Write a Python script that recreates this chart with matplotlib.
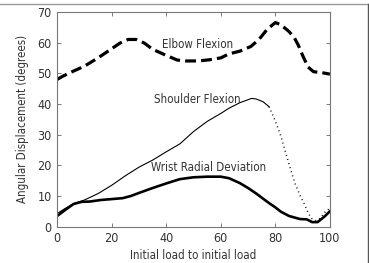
import matplotlib
matplotlib.use('Agg')
import matplotlib.pyplot as plt
from matplotlib.lines import Line2D
import numpy as np

plt.rcParams['font.family'] = ['DejaVu Sans']
plt.rcParams['font.stretch'] = 'condensed'

# elbow flexion (dashed)
elbow_x = [0, 2, 5, 10, 15, 20, 23, 26, 29, 32, 35, 40, 44, 47, 52, 56, 60, 63, 67, 71, 74, 77, 80, 82, 85, 87, 88.5, 90, 92, 94, 97, 100]
elbow_y = [48, 49, 50.3, 52.3, 55, 58, 59.8, 61, 61, 59.8, 57.8, 55.8, 54.3, 54, 54, 54.4, 55, 56.3, 57.2, 58.7, 61, 64.3, 66.5, 65.8, 63.6, 61.5, 59, 55.8, 52, 50.5, 50.2, 49.7]

# shoulder flexion, solid part then dotted part
shoulder_x = [0, 3, 6, 10, 15, 20, 25, 30, 35, 40, 45, 50, 55, 60, 63, 67, 71.3, 73, 75.5, 77.7]
shoulder_y = [4.3, 6, 7.5, 8.7, 10.8, 13.5, 16.6, 19.4, 21.7, 24.4, 27, 31, 34.3, 36.9, 38.6, 40.4, 41.8, 41.6, 40.7, 39.1]
shoulder_dot_x = [77.7, 79.8, 81.7, 83.5, 85.3, 87.2, 89, 90.8, 92.1, 93.3, 94.9, 96.4, 98.3, 100]
shoulder_dot_y = [39.1, 34.8, 30.4, 25, 19.5, 14.1, 10.3, 7.1, 4.4, 2.7, 2, 2.7, 4.9, 6]

# wrist radial deviation
wrist_x = [0, 3, 6, 9, 12, 16, 20, 24, 27, 30, 35, 40, 45, 50, 55, 60, 63, 67, 70, 73, 76, 78, 80, 82, 85, 89, 91.5, 93.5, 95.5, 98, 100]
wrist_y = [3.5, 5.5, 7.4, 8.1, 8.2, 8.7, 9, 9.3, 10, 11, 12.6, 14.1, 15.5, 16.1, 16.3, 16.3, 15.8, 14.2, 12.6, 10.8, 8.8, 7.5, 6.3, 4.9, 3.5, 2.5, 2.4, 1.5, 1.5, 3.3, 5]

fig = plt.figure(figsize=(3.69, 2.63), dpi=100)
ax = fig.add_axes([0.155, 0.138, 0.739, 0.817])

ax.plot(elbow_x, elbow_y, color='black', lw=2.3, dashes=(3.4, 1.6))
ax.plot(shoulder_x, shoulder_y, color='black', lw=0.8)
ax.plot(shoulder_dot_x, shoulder_dot_y, color='black', lw=1.1, ls=(0, (0.6, 2.2)))
ax.plot(wrist_x, wrist_y, color='black', lw=1.9)

ax.text(51.6, 59.2, 'Elbow Flexion', ha='center', va='center', fontsize=8.3, color='#333333')
ax.text(51.5, 41.5, 'Shoulder Flexion', ha='center', va='center', fontsize=8.3, color='#333333')
ax.text(55.6, 19.2, 'Wrist Radial Deviation', ha='center', va='center', fontsize=8.3, color='#333333')

ax.set_xlim(0, 100)
ax.set_ylim(0, 70)
ax.set_xticks([0, 20, 40, 60, 80, 100])
ax.set_yticks(np.arange(0, 71, 10))
ax.tick_params(direction='in', top=True, right=True, length=3, width=0.6,
               color='#666666', labelsize=9, labelcolor='#333333', pad=4)
for s in ax.spines.values():
    s.set_color('#777777')
    s.set_linewidth(0.8)

ax.set_xlabel('Initial load to initial load', fontsize=8.3, color='#333333', labelpad=3)
ax.set_ylabel('Angular Displacement (degrees)', fontsize=8.3, color='#333333', labelpad=6)

# outer frame lines (top and right)
fig.add_artist(Line2D([0, 0.997], [0.983, 0.983], transform=fig.transFigure, color='#999999', lw=1))
fig.add_artist(Line2D([0.997, 0.997], [0, 0.983], transform=fig.transFigure, color='#555555', lw=1))

fig.savefig('out.png', dpi=100)
